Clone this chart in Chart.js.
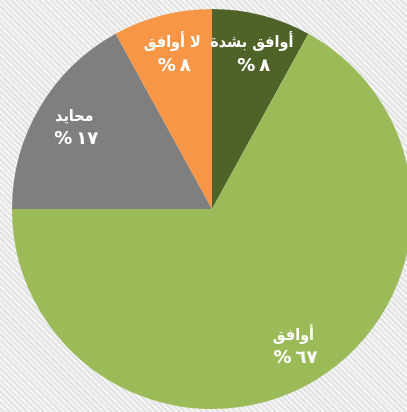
<!DOCTYPE html>
<html>
<head>
<meta charset="utf-8">
<script src="https://cdn.jsdelivr.net/npm/chart.js@4"></script>
<style>
  html, body { margin: 0; padding: 0; }
  body {
    width: 407px; height: 412px; overflow: hidden; position: relative;
    background: repeating-linear-gradient(45deg, #f5f5f5 0px, #f5f5f5 2px, #e3e3e3 2px, #e3e3e3 4px);
  }
  #wrap { position: absolute; left: 0; top: 0; width: 424px; height: 418px; }
</style>
</head>
<body>
<div id="wrap"><canvas id="pie" width="424" height="418"></canvas></div>
<script>
var labels = ['أوافق بشدة', 'أوافق', 'محايد', 'لا أوافق'];
var values = [8, 67, 17, 8];
var colors = ['#4f6228', '#9bbb59', '#7f7f7f', '#f79646'];

function arabicDigits(n) {
    return String(n).replace(/[0-9]/g, function (d) { return '٠١٢٣٤٥٦٧٨٩'[d]; });
}

// draw the two-line labels inside each slice
var sliceLabels = {
    id: 'sliceLabels',
    afterDatasetsDraw: function (chart) {
        var ctx = chart.ctx;
        var meta = chart.getDatasetMeta(0);
        ctx.save();
        ctx.fillStyle = '#ffffff';
        ctx.textAlign = 'center';
        ctx.textBaseline = 'middle';
        meta.data.forEach(function (arc, i) {
            var p = arc.getProps(['x', 'y', 'startAngle', 'endAngle', 'outerRadius'], true);
            var mid = (p.startAngle + p.endAngle) / 2;
            var r = p.outerRadius * 0.8;
            var x = p.x + Math.cos(mid) * r;
            var y = p.y + Math.sin(mid) * r;
            ctx.font = 'bold 16px "DejaVu Sans Condensed", "DejaVu Sans", sans-serif';
            ctx.letterSpacing = '0px';
            ctx.direction = 'rtl';
            ctx.fillText(labels[i], x, y - 11);
            ctx.font = 'bold 18px "DejaVu Sans", sans-serif';
            ctx.letterSpacing = '4px';
            ctx.direction = 'ltr';
            ctx.fillText('%' + arabicDigits(values[i]), x + 2, y + 12);
        });
        ctx.restore();
    }
};

var ctx = document.getElementById('pie').getContext('2d');
var chart = new Chart(ctx, {
    type: 'pie',
    data: {
        labels: labels,
        datasets: [{
            data: values,
            backgroundColor: colors,
            borderWidth: 0
        }]
    },
    options: {
        responsive: false,
        animation: false,
        layout: { padding: 9 },
        plugins: {
            legend: { display: false },
            tooltip: { enabled: false }
        }
    },
    plugins: [sliceLabels]
});
</script>
</body>
</html>
